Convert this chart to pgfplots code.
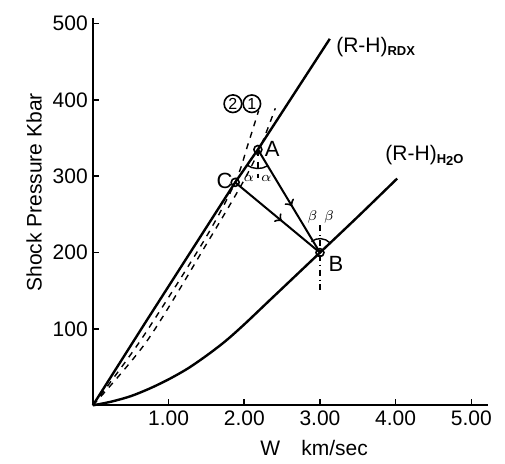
\documentclass[border=0pt]{standalone}
\usepackage{pgfplots}
\pgfplotsset{compat=1.18}
\usepackage{fontspec}
\setmainfont{Liberation Sans}
\usetikzlibrary{decorations.markings}

\begin{document}
\begin{tikzpicture}
\begin{axis}[
  scale only axis,
  width=197.5pt, height=193.5pt,
  xmin=0, xmax=5.22, ymin=0, ymax=507,
  axis lines=left,
  axis line style={-, line width=1pt},
  clip=false,
  xtick={1,2,3,4,5},
  xticklabels={1.00,2.00,3.00,4.00,5.00},
  ytick={100,200,300,400,500},
  yticklabels={100,200,300,400,500},
  tick align=inside,
  major tick length=3pt,
  tick style={line width=0.8pt, black},
  ticklabel style={font=\fontsize{10.5}{12}\selectfont},
  xticklabel style={yshift=1pt},
  yticklabel style={xshift=1pt},
  xlabel={W\quad km/sec},
  xlabel style={font=\fontsize{10.5}{12}\selectfont, at={(axis description cs:0.56,0)}, anchor=north, yshift=-14pt},
  ylabel={Shock Pressure Kbar},
  ylabel style={font=\fontsize{10.5}{12}\selectfont, at={(axis description cs:0,0.55)}, anchor=south, yshift=22pt},
  ab/.style={line width=1pt, postaction={decorate}, decoration={markings,
    mark=at position 0.55 with {\arrow{>}}}},
]
% invisible frame matching the reference margins
\path (rel axis cs:-0.235,-0.150) rectangle (rel axis cs:1.043,1.047);

% (R-H) RDX
\addplot[line width=1.2pt] coordinates {(0,0)(0.71,111)(1.88,292)(2.18,335)(3.13,480)};
% (R-H) H2O
\addplot[line width=1.2pt, smooth] coordinates {
  (0,0)(0.25,5)(0.5,12)(0.75,22)(1.0,34)(1.25,48)(1.5,65)(1.75,84)(2.0,106)
  (2.34,138)(2.5,153)(3.0,200)(3.5,247)(4.02,297)};
% dashed curve 1 (through A)
\addplot[dashed, line width=0.7pt, smooth] coordinates {
  (0,0)(0.72,85)(1.53,216)(1.97,290)(2.2,335)(2.41,389)};
% dashed curve 2 (through C)
\addplot[dashed, line width=0.7pt, smooth] coordinates {
  (0,0)(0.63,85)(1.47,216)(1.88,292)(2.05,342)(2.19,386)};
% A -> B and C -> B
\addplot[ab] coordinates {(2.18,335)(3.0,200)};
\addplot[ab] coordinates {(1.88,292)(3.0,200)};
% vertical guides
\addplot[dashed, line width=0.7pt] coordinates {(2.18,335)(2.18,298)};
\addplot[dash dot, line width=0.8pt] coordinates {(3.0,236)(3.0,151)};
% points A, C, B
\addplot[only marks, mark=o, mark size=2pt, mark options={line width=0.8pt}]
  coordinates {(2.18,335)(1.88,292)(3.0,200)};

% angle arcs
\draw[line width=0.7pt] (axis cs:2.18,335) ++(235:9.5pt) arc[start angle=235, end angle=301, radius=9.5pt];
\draw[line width=0.7pt] (axis cs:3.0,200) ++(44:7pt) arc[start angle=44, end angle=128, radius=7pt];

% labels
\node[anchor=west, font=\fontsize{10.5}{12}\selectfont, inner sep=0pt] at (axis cs:3.21,469)
  {(R-H)\textsubscript{\fontsize{6.5}{7}\selectfont\bfseries RDX}};
\node[anchor=west, font=\fontsize{10.5}{12}\selectfont, inner sep=0pt] at (axis cs:3.86,327)
  {(R-H)\textsubscript{\fontsize{6.5}{7}\selectfont\bfseries H\raisebox{-0.3ex}{2}O}};
\node[circle, draw, line width=0.8pt, inner sep=0.6pt, minimum size=8.5pt, font=\fontsize{8}{9}\selectfont] at (axis cs:1.85,395) {2};
\node[circle, draw, line width=0.8pt, inner sep=0.6pt, minimum size=8.5pt, font=\fontsize{8}{9}\selectfont] at (axis cs:2.10,395) {1};
\node[font=\fontsize{11}{12}\selectfont] at (axis cs:2.37,336) {A};
\node[font=\fontsize{11}{12}\selectfont] at (axis cs:1.74,294) {C};
\node[font=\fontsize{11}{12}\selectfont] at (axis cs:3.21,185) {B};
\node[font=\fontsize{7}{8}\selectfont] at (axis cs:2.06,297) {$\alpha$};
\node[font=\fontsize{7}{8}\selectfont] at (axis cs:2.29,297) {$\alpha$};
\node[font=\fontsize{7}{8}\selectfont] at (axis cs:2.90,246) {$\beta$};
\node[font=\fontsize{7}{8}\selectfont] at (axis cs:3.12,246) {$\beta$};
\end{axis}
\end{tikzpicture}
\end{document}
